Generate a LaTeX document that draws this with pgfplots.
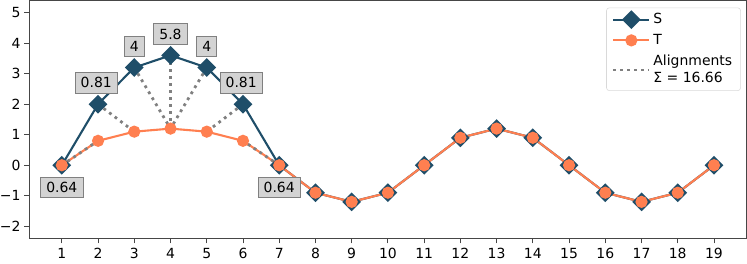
\documentclass[border=0pt]{standalone}
\usepackage{pgfplots}
\pgfplotsset{compat=1.18}
\usepackage{fontspec}
\setmainfont{DejaVu Sans}
\definecolor{sblue}{RGB}{31,78,105}
\definecolor{torange}{RGB}{255,127,80}
\definecolor{boxgray}{RGB}{211,211,211}
\definecolor{spine}{RGB}{70,70,70}
\pgfplotsset{
  longline/.style={legend image code/.code={
    \draw[mark repeat=2,mark phase=2,##1] plot coordinates {(0cm,0cm) (0.45cm,0cm) (0.9cm,0cm)};}},
}
\begin{document}
\begin{tikzpicture}
\begin{axis}[
  scale only axis,
  width=514pt, height=170.6pt,
  xmin=0.1, xmax=19.9, ymin=-2.4, ymax=5.4,
  xtick={1,...,19}, ytick={-2,...,5},
  yticklabels={−2,−1,0,1,2,3,4,5},
  tick align=outside, tick pos=left,
  major tick length=3.5pt,
  axis line style={spine, line width=0.6pt},
  tick style={spine, line width=0.6pt},
  every tick label/.append style={font=\fontsize{10}{12}\selectfont},
  yticklabel style={inner xsep=0pt, xshift=-2.5pt},
  /pgf/number format/assume math mode=true,
  legend style={at={(0.992,0.97)}, anchor=north east, draw=black!15, rounded corners=2pt, font=\fontsize{10}{11}\selectfont, inner xsep=4pt, inner ysep=2pt, row sep=2pt, cells={anchor=west}},
  legend cell align=left,
  clip=false,
]
\addplot[sblue, line width=1.5pt, mark=square*, mark size=4pt, mark options={rotate=45, fill=sblue}, longline] coordinates {
(1,0) (2,2) (3,3.2) (4,3.6) (5,3.2) (6,2) (7,0) (8,-0.9) (9,-1.2) (10,-0.9) (11,0) (12,0.9) (13,1.2) (14,0.9) (15,0) (16,-0.9) (17,-1.2) (18,-0.9) (19,0)};
\addlegendentry{S}
\addplot[torange, line width=1.5pt, mark=*, mark size=3.6pt, mark options={fill=torange}, longline] coordinates {
(1,0) (2,0.8) (3,1.1) (4,1.2) (5,1.1) (6,0.8) (7,0) (8,-0.9) (9,-1.2) (10,-0.9) (11,0) (12,0.9) (13,1.2) (14,0.9) (15,0) (16,-0.9) (17,-1.2) (18,-0.9) (19,0)};
\addlegendentry{T}
\addplot[gray, line width=2pt, dash pattern=on 2pt off 3pt, forget plot] coordinates {(1,0) (2,0.8)};
\addplot[gray, line width=2pt, dash pattern=on 2pt off 3pt, forget plot] coordinates {(2,2) (3,1.1)};
\addplot[gray, line width=2pt, dash pattern=on 2pt off 3pt, forget plot] coordinates {(3,3.2) (4,1.2)};
\addplot[gray, line width=2pt, dash pattern=on 2pt off 3pt, forget plot] coordinates {(4,3.6) (4,1.2)};
\addplot[gray, line width=2pt, dash pattern=on 2pt off 3pt, forget plot] coordinates {(5,3.2) (4,1.2)};
\addplot[gray, line width=2pt, dash pattern=on 2pt off 3pt, forget plot] coordinates {(6,2) (5,1.1)};
\addplot[gray, line width=2pt, dash pattern=on 2pt off 3pt, forget plot] coordinates {(7,0) (6,0.8)};
\addlegendimage{gray, line width=2pt, dash pattern=on 2pt off 3pt, longline}
\addlegendentry{\shortstack[l]{Alignments\\Σ = 16.66}}
\begin{scope}[every node/.style={fill=boxgray, draw=gray, line width=0.5pt, inner xsep=4pt, inner ysep=3.5pt, font=\fontsize{10}{12}\selectfont}]
\node at (axis cs:1,-0.72) {0.64};
\node at (axis cs:1.95,2.7) {0.81};
\node at (axis cs:3,3.9) {4};
\node at (axis cs:4,4.3) {5.8};
\node at (axis cs:5,3.9) {4};
\node at (axis cs:5.95,2.7) {0.81};
\node at (axis cs:7,-0.72) {0.64};
\end{scope}
\end{axis}
\end{tikzpicture}
\end{document}
